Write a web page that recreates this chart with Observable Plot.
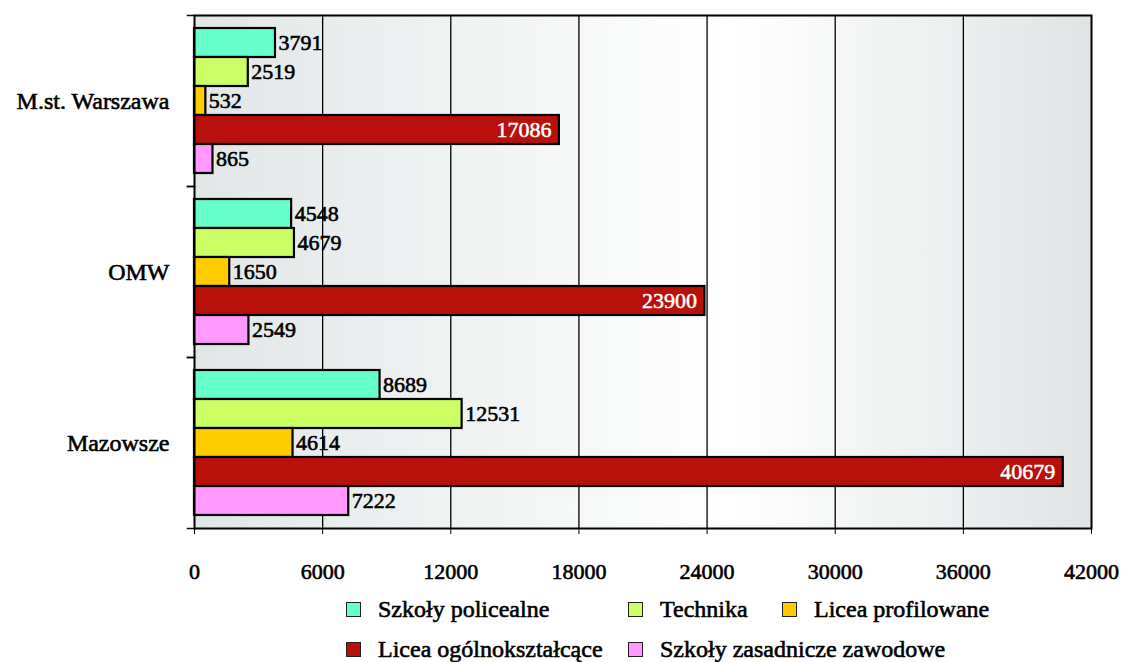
<!DOCTYPE html>
<html><head><meta charset="utf-8">
<script src="https://cdn.jsdelivr.net/npm/d3@7"></script>
<script src="https://cdn.jsdelivr.net/npm/@observablehq/plot@0.6"></script>
<style>
body{margin:0;background:#fff;font-family:"Liberation Serif","Times New Roman",serif;}
#chart svg{display:block;}
#chart svg g[aria-label$="tick label"] text{stroke:#000;stroke-width:0.6px;}
#chart svg g[aria-label="fy-axis tick label"]{font-size:24px;}
#legend{display:grid;grid-template-columns:282px 154px auto;grid-auto-rows:40px;margin-left:346px;margin-top:1px;}
.item{display:flex;align-items:center;font-size:24px;color:#000;white-space:nowrap;-webkit-text-stroke:0.6px #000;}
.sw{width:13px;height:13px;border:1.5px solid #222;margin-right:17px;flex:none;}
</style></head><body>
<div id="chart"></div><div id="legend"></div>
<script>
const regions = ["M.st. Warszawa", "OMW", "Mazowsze"];
const series = ["Szkoły policealne", "Technika", "Licea profilowane", "Licea ogólnokształcące", "Szkoły zasadnicze zawodowe"];
const colors = ["#66ffcc", "#ccff66", "#ffcc00", "#b8110b", "#ff99ff"];
const warszawa = [3791, 2519, 532, 17086, 865];
const omw = [4548, 4679, 1650, 23900, 2549];
const mazowsze = [8689, 12531, 4614, 40679, 7222];
const xTicks = [0, 6000, 12000, 18000, 24000, 30000, 36000, 42000];
const gridTicks = [6000, 12000, 18000, 24000, 30000, 36000];

const byRegion = [warszawa, omw, mazowsze];
const data = regions.flatMap((r, i) => series.map((s, j) => ({region: r, series: s, value: byRegion[i][j]})));

const W = 1121, H = 588, mL = 194, mR = 30, mT = 14, mB = 60;
const plotW = W - mL - mR;
const inside = series[3];

const chart = Plot.plot({
  width: W, height: H, marginLeft: mL, marginRight: mR, marginTop: mT, marginBottom: mB,
  style: {fontFamily: "'Liberation Serif', 'Times New Roman', serif", fontSize: "22px", background: "transparent", color: "#000"},
  x: {domain: [0, 42000], ticks: xTicks, tickSize: 6, tickPadding: 29, label: null, tickFormat: d => String(d)},
  y: {domain: series, axis: null, paddingInner: 0, paddingOuter: 0.43},
  fy: {domain: regions, axis: "left", label: null, tickSize: 0, tickPadding: 25, padding: 0},
  color: {domain: series, range: colors},
  marks: [
    Plot.frame({fill: "url(#bg)", facet: "super"}),
    Plot.ruleX(gridTicks, {stroke: "#000", strokeWidth: 1.3}),
    Plot.barX(data, {x: "value", y: "series", fy: "region", fill: "series", stroke: "#000", strokeWidth: 2.2}),
    Plot.text(data.filter(d => d.series !== inside), {x: "value", y: "series", fy: "region", text: d => String(d.value), textAnchor: "start", dx: 3, fill: "#000", stroke: "#000", strokeWidth: 0.6}),
    Plot.text(data.filter(d => d.series === inside), {x: "value", y: "series", fy: "region", text: d => String(d.value), textAnchor: "end", dx: -8, fill: "#fff", stroke: "#fff", strokeWidth: 0.5}),
    Plot.frame({anchor: "top", stroke: "#000", strokeWidth: 1.5, insetLeft: -7, insetRight: plotW}),
    Plot.frame({anchor: "bottom", stroke: "#000", strokeWidth: 1.5, insetLeft: -7, insetRight: plotW}),
    Plot.frame({stroke: "#000", strokeWidth: 2, facet: "super"})
  ]
});

const ns = "http://www.w3.org/2000/svg";
const defs = document.createElementNS(ns, "defs");
defs.innerHTML = '<linearGradient id="bg" x1="0" x2="1" y1="0" y2="0"><stop offset="0" stop-color="#e1e6e6"/><stop offset="0.6" stop-color="#ffffff"/><stop offset="1" stop-color="#dfe4e4"/></linearGradient>';
chart.prepend(defs);
document.getElementById("chart").appendChild(chart);

const legend = document.getElementById("legend");
series.forEach((s, i) => {
  const item = document.createElement("div");
  item.className = "item";
  const sw = document.createElement("span");
  sw.className = "sw";
  sw.style.background = colors[i];
  const t = document.createElement("span");
  t.textContent = s;
  item.appendChild(sw); item.appendChild(t);
  legend.appendChild(item);
});
</script>
</body></html>
